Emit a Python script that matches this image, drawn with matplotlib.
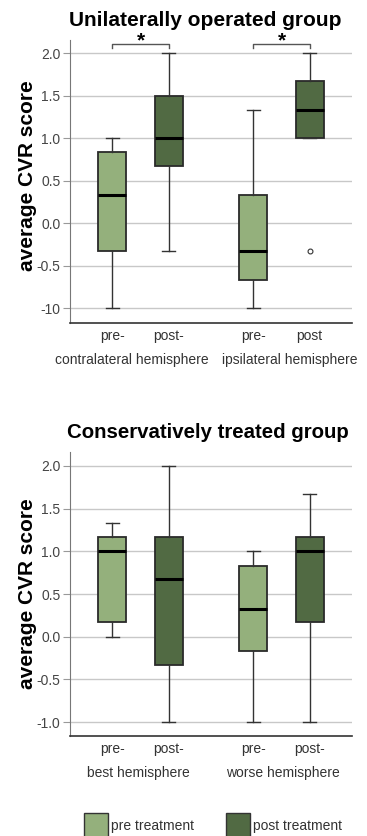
import matplotlib
matplotlib.use("Agg")
import matplotlib.pyplot as plt
from matplotlib.patches import Rectangle

plt.rcParams['font.family'] = ['Liberation Sans', 'DejaVu Sans']

# ---- data ----
top_title = "Unilaterally operated group"
top_groups = ["contralateral hemisphere", "ipsilateral hemisphere"]
top_sub = ["pre-", "post-", "pre-", "post"]
# whislo, q1, med, q3, whishi
top_stats = [
    [-1.0, -0.33, 0.33, 0.83, 1.0],
    [-0.33, 0.67, 1.0, 1.5, 2.0],
    [-1.0, -0.67, -0.33, 0.33, 1.33],
    [1.0, 1.0, 1.33, 1.67, 2.0],
]
top_fliers = [[], [], [], [-0.33]]
top_yticks = [2.0, 1.5, 1.0, 0.5, 0.0, -0.5, -1.0]
top_yticklabels = ["2.0", "1.5", "1.0", "0.5", "0.0", "-0.5", "-10"]

bot_title = "Conservatively treated group"
bot_groups = ["best hemisphere", "worse hemisphere"]
bot_sub = ["pre-", "post-", "pre-", "post-"]
bot_stats = [
    [0.0, 0.17, 1.0, 1.17, 1.33],
    [-1.0, -0.33, 0.67, 1.17, 2.0],
    [-1.0, -0.17, 0.33, 0.83, 1.0],
    [-1.0, 0.17, 1.0, 1.17, 1.67],
]
bot_fliers = [[], [], [], []]
bot_yticks = [2.0, 1.5, 1.0, 0.5, 0.0, -0.5, -1.0]
bot_yticklabels = ["2.0", "1.5", "1.0", "0.5", "0.0", "-0.5", "-1.0"]

legend_labels = ["pre treatment", "post treatment"]
positions = [0, 1, 2.5, 3.5]
sig_pairs = [(0, 1), (2.5, 3.5)]

light = "#94b07c"
dark = "#516a43"
colors = [light, dark, light, dark]

fig = plt.figure(figsize=(3.67, 8.36), dpi=100)
W, H = 367, 836


def px_axes(x0, y0, x1, y1):
    return fig.add_axes([x0 / W, 1 - y1 / H, (x1 - x0) / W, (y1 - y0) / H])


def draw_panel(ax, stats, fliers, groups, group_px, subs, yticks, yticklabels,
               ylim, ylab_y):
    bxp = []
    for s, f in zip(stats, fliers):
        bxp.append(dict(whislo=s[0], q1=s[1], med=s[2], q3=s[3], whishi=s[4], fliers=f))
    b = ax.bxp(bxp, positions=positions, widths=0.5, patch_artist=True,
               showfliers=True,
               boxprops=dict(edgecolor="#2a2a2a", linewidth=1.3),
               medianprops=dict(color="black", linewidth=2.2),
               whiskerprops=dict(color="#333333", linewidth=1.0),
               capprops=dict(color="#333333", linewidth=1.0),
               flierprops=dict(marker="o", markersize=3.5, markerfacecolor="white",
                               markeredgecolor="#333333", markeredgewidth=0.8))
    for patch, c in zip(b["boxes"], colors):
        patch.set_facecolor(c)
    for cap in b["caps"]:
        x = cap.get_xdata()
        m = (x[0] + x[1]) / 2
        cap.set_xdata([m - 0.12, m + 0.12])
    ax.set_xlim(-0.75, 4.25)
    ax.set_ylim(*ylim)
    ax.set_yticks(yticks)
    ax.set_yticklabels(yticklabels, color="#444444", fontsize=10)
    ax.tick_params(axis="y", length=5, color="#999999", pad=2)
    ax.tick_params(axis="x", length=0, pad=4)
    ax.set_xticks(positions)
    ax.set_xticklabels(subs, color="#333333", fontsize=10)
    ax.grid(axis="y", color="#c8c8c8", linewidth=1.0)
    ax.set_axisbelow(True)
    for sp in ["top", "right"]:
        ax.spines[sp].set_visible(False)
    ax.spines["left"].set_color("#777777")
    ax.spines["bottom"].set_color("#333333")
    ax.spines["bottom"].set_linewidth(1.2)
    ax.set_ylabel("average CVR score", fontsize=15, fontweight="bold")
    ax.yaxis.set_label_coords(-33 / 282, ylab_y)
    for g, gx in zip(groups, group_px):
        ax.text((gx - 70) / 282, -37 / 283, g, transform=ax.transAxes, ha="center",
                va="center", fontsize=10, color="#333333")


ax1 = px_axes(70, 40, 352, 323)
draw_panel(ax1, top_stats, top_fliers, top_groups, [131.5, 290], top_sub,
           top_yticks, top_yticklabels, (-1.176, 2.153), 0.52)
fig.text(205 / W, 1 - 20 / H, top_title, ha="center", va="center",
         fontsize=15, fontweight="bold")
for a, bpos in sig_pairs:
    yb = 2.105
    ax1.plot([a, a, bpos, bpos], [yb - 0.05, yb, yb, yb - 0.05], color="#555555",
             linewidth=1.0, clip_on=False)
    ax1.text((a + bpos) / 2, 2.08, "*", ha="center", va="baseline",
             fontsize=15, fontweight="bold", clip_on=False)

ax2 = px_axes(70, 452, 352, 736)
draw_panel(ax2, bot_stats, bot_fliers, bot_groups, [138.5, 283], bot_sub,
           bot_yticks, bot_yticklabels, (-1.164, 2.164), 0.5)
fig.text(208 / W, 1 - 433 / H, bot_title, ha="center", va="center",
         fontsize=14.7, fontweight="bold")

# legend
for x0, lab, c in [(84, legend_labels[0], light), (226, legend_labels[1], dark)]:
    r = Rectangle((x0 / W, 1 - 838 / H), 24 / W, 25 / H, transform=fig.transFigure,
                  facecolor=c, edgecolor="#333333", linewidth=1.0)
    fig.add_artist(r)
    fig.text((x0 + 27) / W, 1 - 826 / H, lab, ha="left", va="center",
             fontsize=10, color="#333333")

fig.savefig("out.png", dpi=100)
